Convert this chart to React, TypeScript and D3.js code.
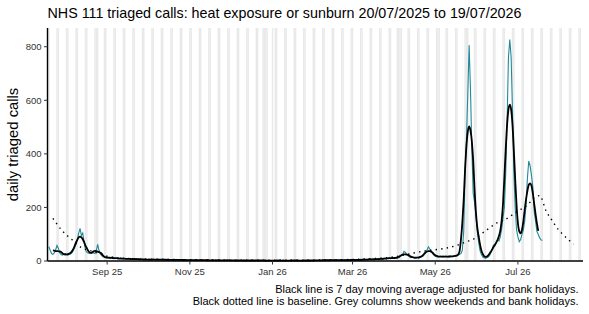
import React from "react";
import * as d3 from "d3";

// daily triaged calls, one array per month (first day 20/07/2025)
const jul25 = [53, 40, 28, 25, 30, 42, 58, 48, 30, 24, 22, 26];
const aug25 = [28, 24, 22, 24, 26, 30, 38, 50, 62, 80, 104, 122, 96, 104, 70, 42, 32, 30, 28, 30, 34, 30, 28, 40, 62, 40, 26, 20, 16, 14, 13];
const sep25 = [12, 11, 10, 13, 15, 11, 9, 10, 8, 9, 12, 8, 7, 9, 8, 7, 10, 7, 6, 8, 7, 6, 9, 6, 5, 7, 6, 5, 6, 5];
const oct25 = [5, 6, 4, 5, 8, 5, 4, 5, 6, 4, 5, 4, 7, 5, 4, 3, 5, 4, 5, 3, 4, 6, 4, 3, 4, 5, 3, 4, 3, 4, 3];
const nov25 = [3, 4, 3, 2, 4, 3, 2, 3, 5, 3, 2, 3, 2, 4, 3, 2, 3, 2, 2, 3, 4, 2, 3, 2, 2, 3, 2, 4, 2, 3];
const dec25 = [2, 3, 2, 1, 2, 3, 2, 1, 2, 2, 3, 1, 2, 2, 1, 2, 3, 2, 1, 2, 2, 1, 2, 3, 2, 1, 2, 1, 2, 2, 1];
const jan26 = [2, 1, 2, 2, 1, 2, 3, 1, 2, 1, 2, 2, 1, 2, 1, 2, 3, 2, 1, 2, 2, 1, 2, 1, 2, 2, 3, 1, 2, 2, 1];
const feb26 = [2, 3, 2, 2, 3, 2, 4, 3, 2, 3, 2, 4, 3, 2, 3, 5, 3, 2, 3, 4, 3, 2, 4, 3, 5, 3, 4, 3];
const mar26 = [4, 3, 5, 4, 3, 5, 6, 4, 5, 4, 6, 5, 7, 5, 6, 8, 6, 5, 7, 9, 7, 8, 6, 9, 11, 8, 10, 12, 9, 11, 13];
const apr26 = [10, 12, 9, 14, 16, 20, 24, 36, 32, 26, 20, 16, 13, 15, 13, 10, 12, 14, 11, 13, 16, 18, 24, 30, 42, 53, 45, 36, 28, 22];
const may26 = [18, 16, 15, 17, 18, 16, 15, 17, 18, 16, 15, 18, 17, 16, 18, 20, 19, 22, 24, 28, 40, 110, 330, 450, 620, 806, 640, 420, 252, 220, 170];
const jun26 = [110, 70, 40, 25, 15, 12, 10, 12, 15, 20, 30, 45, 60, 60, 70, 80, 75, 90, 120, 160, 200, 330, 520, 760, 827, 760, 560, 330, 200, 116];
const jul26 = [90, 72, 80, 100, 115, 150, 210, 310, 373, 355, 320, 275, 185, 150, 110, 100, 86, 80, 76];

// baseline (expected daily calls)
const baselineDates = [
  "2025-07-23", "2025-07-30", "2025-08-06", "2025-08-13", "2025-08-20", "2025-08-27",
  "2025-09-03", "2025-09-10", "2025-09-24", "2025-10-15", "2025-11-15", "2025-12-15",
  "2026-01-15", "2026-02-15", "2026-03-01", "2026-03-15", "2026-03-29", "2026-04-08",
  "2026-04-17", "2026-04-24", "2026-05-08", "2026-05-18", "2026-05-24", "2026-05-29",
  "2026-06-08", "2026-06-15", "2026-06-23", "2026-06-30", "2026-07-08", "2026-07-14",
  "2026-07-17", "2026-07-22", "2026-07-26", "2026-07-31", "2026-08-04", "2026-08-11",
];
const baselineValues = [
  159, 112, 80, 50, 38, 26,
  15, 11, 8, 6, 4, 3,
  3, 4, 6, 9, 14, 22,
  32, 38, 47, 60, 72, 81,
  116, 141, 159, 184, 209, 240,
  244, 184, 153, 116, 95, 63,
];

const bankHolidays = [
  "2025-08-25", "2025-12-25", "2025-12-26", "2026-01-01",
  "2026-04-03", "2026-04-06", "2026-05-04", "2026-05-25",
];

const yTicks = [0, 200, 400, 600, 800];
const xTickDates = ["2025-09-01", "2025-11-01", "2026-01-01", "2026-03-01", "2026-05-01", "2026-07-01"];
const xTickLabels = ["Sep 25", "Nov 25", "Jan 26", "Mar 26", "May 26", "Jul 26"];

const W = 589;
const H = 314;
const left = 47.5;
const right = 583;
const top = 28;
const bottom = 261;
const font = "'Liberation Sans', Arial, sans-serif";
const teal = "#23899a";

const parse = d3.utcParse("%Y-%m-%d");

type Pt = { date: Date; value: number };

export default function App() {
  const start = parse("2025-07-20")!;
  const daily: Pt[] = [
    ...jul25, ...aug25, ...sep25, ...oct25, ...nov25, ...dec25, ...jan26,
    ...feb26, ...mar26, ...apr26, ...may26, ...jun26, ...jul26,
  ].map((v, i) => ({ date: d3.utcDay.offset(start, i), value: v }));

  // centred 7 day moving average
  const avg: Pt[] = [];
  daily.forEach((d, i) => {
    if (i < 3 || i > daily.length - 4) return;
    avg.push({ date: d.date, value: d3.mean(daily.slice(i - 3, i + 4), (e) => e.value)! });
  });

  const base: Pt[] = baselineDates.map((s, i) => ({ date: parse(s)!, value: baselineValues[i] }));

  const x = d3.scaleUtc().domain([parse("2025-07-19")!, parse("2026-08-18")!]).range([left, right]);
  const y = d3.scaleLinear().domain([0, 870]).range([bottom, top]);

  const line = d3
    .line<Pt>()
    .x((d) => x(d.date))
    .y((d) => y(d.value));
  const smooth = d3
    .line<Pt>()
    .x((d) => x(d.date))
    .y((d) => y(d.value))
    .curve(d3.curveMonotoneX);

  // grey columns: weekends and bank holidays
  const holidaySet = new Set(bankHolidays);
  const fmt = d3.utcFormat("%Y-%m-%d");
  const greyDays = d3
    .utcDays(parse("2025-07-19")!, parse("2026-08-18")!)
    .filter((d) => d.getUTCDay() === 0 || d.getUTCDay() === 6 || holidaySet.has(fmt(d)));

  return (
    <svg width={W} height={H} style={{ position: "absolute", left: 0, top: 0, background: "#fff" }}>
      <text x={left} y={18} fontFamily={font} fontSize={14.3} fill="#000">
        NHS 111 triaged calls: heat exposure or sunburn 20/07/2025 to 19/07/2026
      </text>

      <clipPath id="panel">
        <rect x={left} y={top} width={right - left} height={bottom - top} />
      </clipPath>

      <g clipPath="url(#panel)">
        {greyDays.map((d, i) => {
          const x0 = x(d3.utcHour.offset(d, -12));
          const x1 = x(d3.utcHour.offset(d, 12));
          return <rect key={i} x={x0} y={top} width={x1 - x0 + 0.05} height={bottom - top} fill="#e9e9e9" />;
        })}
      </g>

      <path d={line(daily)!} fill="none" stroke={teal} strokeWidth={1.1} />
      <path d={smooth(avg)!} fill="none" stroke="#000" strokeWidth={1.8} />
      <path
        d={smooth(base)!}
        fill="none"
        stroke="#000"
        strokeWidth={1.4}
        strokeDasharray="1.4 4.2"
      />

      {/* y axis */}
      <line x1={left} x2={left} y1={top} y2={bottom} stroke="#000" strokeWidth={1.4} />
      {yTicks.map((t) => (
        <g key={t} transform={`translate(0,${y(t)})`}>
          <line x1={left - 3.5} x2={left} stroke="#333" strokeWidth={1} />
          <text x={left - 6} dy="0.35em" textAnchor="end" fontFamily={font} fontSize={9.5} fill="#333">
            {t}
          </text>
        </g>
      ))}

      {/* x axis */}
      <line x1={left} x2={right} y1={bottom} y2={bottom} stroke="#000" strokeWidth={1.4} />
      {xTickDates.map((s, i) => {
        const px = x(parse(s)!);
        return (
          <g key={s} transform={`translate(${px},${bottom})`}>
            <line y1={0} y2={3.5} stroke="#333" strokeWidth={1} />
            <text y={13.5} textAnchor="middle" fontFamily={font} fontSize={9.5} fill="#333">
              {xTickLabels[i]}
            </text>
          </g>
        );
      })}

      <text
        transform={`translate(18,${(top + bottom) / 2}) rotate(-90)`}
        textAnchor="middle"
        fontFamily={font}
        fontSize={14.8}
        fill="#000"
      >
        daily triaged calls
      </text>

      <text x={578.5} y={292.5} textAnchor="end" fontFamily={font} fontSize={11} fill="#000">
        Black line is 7 day moving average adjusted for bank holidays.
      </text>
      <text x={578.5} y={304.5} textAnchor="end" fontFamily={font} fontSize={11} fill="#000">
        Black dotted line is baseline. Grey columns show weekends and bank holidays.
      </text>
    </svg>
  );
}
